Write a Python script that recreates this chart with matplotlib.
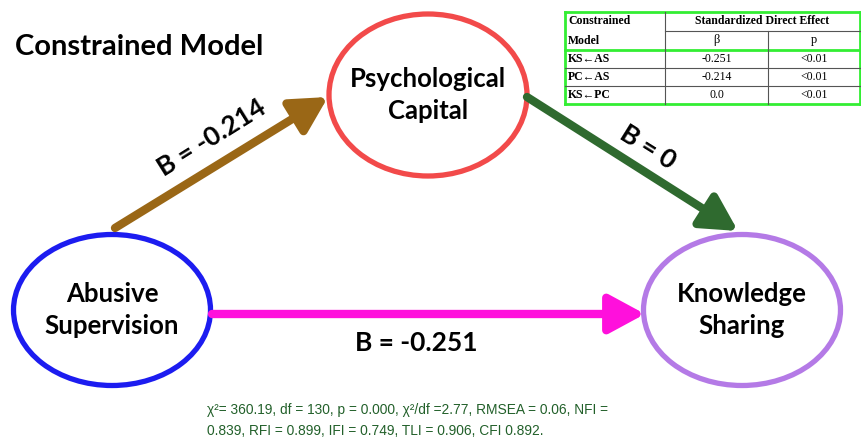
import matplotlib.pyplot as plt
from matplotlib.patches import Ellipse

# diagram content
title = "Constrained Model"
nodes = ["Psychological\nCapital", "Abusive\nSupervision", "Knowledge\nSharing"]
paths = [("AS", "PC", -0.214), ("PC", "KS", 0), ("AS", "KS", -0.251)]
path_labels = ["B = -0.214", "B = 0", "B = -0.251"]

tab_rows = ["KS\u2190AS", "PC\u2190AS", "KS\u2190PC"]
tab_beta = ["-0.251", "-0.214", "0.0"]
tab_p = ["<0.01", "<0.01", "<0.01"]

fit_line1 = "\u03c7\u00b2= 360.19, df = 130, p = 0.000, \u03c7\u00b2/df =2.77, RMSEA = 0.06, NFI ="
fit_line2 = "0.839, RFI = 0.899, IFI = 0.749, TLI = 0.906, CFI 0.892."

fig = plt.figure(figsize=(8.61, 4.46), dpi=100)
ax = fig.add_axes([0, 0, 1, 1])
ax.set_xlim(0, 861)
ax.set_ylim(446, 0)
ax.axis('off')

font = 'Lato'

ax.text(15, 47, title, fontsize=21, fontweight='bold', family=font, va='center', ha='left')

# ellipses: center, width, height, colour
ell = {"PC": ((428, 95), 198, 162, '#f24a4a'),
       "AS": ((112, 310), 197, 151, '#1c1cf0'),
       "KS": ((742, 310), 197, 151, '#b47ae6')}
for key, name in zip(["PC", "AS", "KS"], nodes):
    (cx, cy), w, h, c = ell[key]
    ax.add_patch(Ellipse((cx, cy), w, h, fill=False, ec=c, lw=3.8))
    ax.text(cx, cy, name, ha='center', va='center', fontsize=18.5, fontweight='bold',
            family=font, linespacing=1.4)

# arrows
arrow_pts = [((115, 228), (328, 97), '#9a6716'),
             ((527, 97), (738, 231), '#2f6a2f'),
             ((212, 314), (645, 314), '#ff10dc')]
for (p0, p1, c) in arrow_pts:
    ax.annotate('', xy=p1, xytext=p0,
                arrowprops=dict(arrowstyle='-|>,head_length=1.2,head_width=0.65', lw=6,
                                color=c, shrinkA=0, shrinkB=0, mutation_scale=18))

label_pos = [((212, 138), 32), ((648, 147), -32), ((416, 343), 0)]
for lab, ((x, y), rot) in zip(path_labels, label_pos):
    ax.text(x, y, lab, ha='center', va='center', fontsize=19, fontweight='bold',
            family=font, rotation=rot, rotation_mode='anchor')

# table
serif = 'Liberation Serif'
x0, x1, x2, x3 = 565, 665, 768, 860
ys = [12, 31, 50, 68, 86, 104]
green = '#33ee33'
grey = '#555555'
for y in [ys[0], ys[2], ys[5]]:
    ax.plot([x0, x3], [y, y], color=green, lw=2)
ax.plot([x0, x0], [ys[0], ys[5]], color=green, lw=2)
ax.plot([x3, x3], [ys[0], ys[5]], color=green, lw=2)
ax.plot([x1, x3], [ys[1], ys[1]], color=grey, lw=0.8)
for y in ys[3:5]:
    ax.plot([x0, x3], [y, y], color=grey, lw=0.8)
ax.plot([x1, x1], [ys[0], ys[5]], color=grey, lw=0.8)
ax.plot([x2, x2], [ys[1], ys[5]], color=grey, lw=0.8)

ax.text(x0 + 3, (ys[0] + ys[1]) / 2, "Constrained", family=serif, fontsize=8.5,
        fontweight='bold', va='center')
ax.text(x0 + 3, (ys[1] + ys[2]) / 2, "Model", family=serif, fontsize=8.5,
        fontweight='bold', va='center')
ax.text((x1 + x3) / 2, (ys[0] + ys[1]) / 2, "Standardized Direct Effect", family=serif,
        fontsize=8.5, fontweight='bold', va='center', ha='center')
ax.text((x1 + x2) / 2, (ys[1] + ys[2]) / 2, "\u03b2", family=serif, fontsize=9,
        va='center', ha='center')
ax.text((x2 + x3) / 2, (ys[1] + ys[2]) / 2, "p", family=serif, fontsize=9,
        va='center', ha='center')
for i, (r, b, p) in enumerate(zip(tab_rows, tab_beta, tab_p)):
    yc = (ys[2 + i] + ys[3 + i]) / 2
    ax.text(x0 + 3, yc, r, family=[serif, 'DejaVu Sans'], fontsize=8.5, fontweight='bold', va='center')
    ax.text((x1 + x2) / 2, yc, b, family=serif, fontsize=8.5, va='center', ha='center')
    ax.text((x2 + x3) / 2, yc, p, family=serif, fontsize=8.5, va='center', ha='center')

# fit indices
ax.text(207, 410, fit_line1, family='Liberation Sans', fontsize=9.9,
        color='#22602a', va='center', ha='left')
ax.text(207, 431, fit_line2, family='Liberation Sans', fontsize=9.9,
        color='#22602a', va='center', ha='left')

fig.savefig('out.png', dpi=100)
